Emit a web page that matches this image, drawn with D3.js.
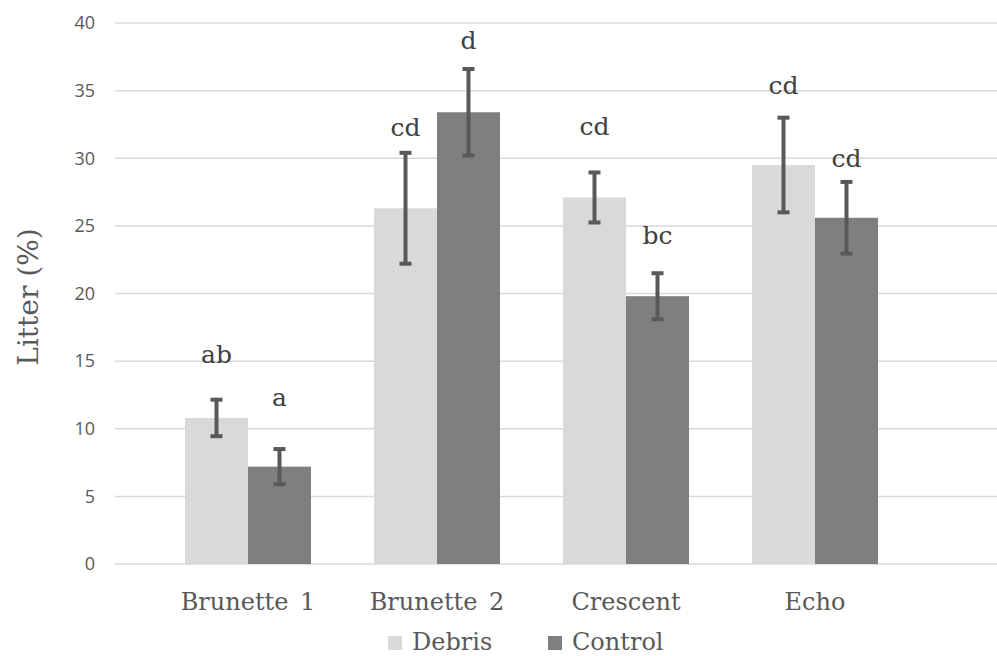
<!DOCTYPE html>
<html><head><meta charset="utf-8">
<script src="https://cdn.jsdelivr.net/npm/d3@7"></script>
<style>body{margin:0;background:#fff}svg{display:block}</style>
</head><body><svg id="c" width="997" height="656"></svg>
<script>
const categories = ["Brunette 1", "Brunette 2", "Crescent", "Echo"];
const seriesNames = ["Debris", "Control"];
const debris = [10.8, 26.3, 27.1, 29.5];
const control = [7.2, 33.4, 19.8, 25.6];
const debrisErr = [1.35, 4.1, 1.85, 3.5];
const controlErr = [1.3, 3.2, 1.7, 2.65];
const debrisLetters = ["ab", "cd", "cd", "cd"];
const controlLetters = ["a", "d", "bc", "cd"];
const debrisLetterPos = [15.5, 32.3, 32.4, 35.4];
const controlLetterPos = [12.3, 38.7, 24.3, 30.0];
const yTicks = [0, 5, 10, 15, 20, 25, 30, 35, 40];

const SERIF = "DejaVu Serif";
const colors = {Debris: "#d9d9d9", Control: "#7f7f7f"};
const svg = d3.select("#c");
const y = d3.scaleLinear().domain([0, 40]).range([564, 23]);
const x0 = d3.scaleBand().domain(categories).range([153.5, 909.5]).paddingInner(1/3).paddingOuter(1/6);
const x1 = d3.scaleBand().domain(seriesNames).range([0, x0.bandwidth()]);

svg.append("g").selectAll("line").data(yTicks).join("line")
  .attr("x1", 115).attr("x2", 997)
  .attr("y1", d => y(d)).attr("y2", d => y(d))
  .attr("stroke", "#d9d9d9").attr("stroke-width", 1.5);

const yAxis = svg.append("g").attr("transform", "translate(95,0)")
  .call(d3.axisLeft(y).tickValues(yTicks).tickSize(0).tickPadding(0));
yAxis.select(".domain").remove();
yAxis.selectAll("text").attr("font-family", "'Open Sans', sans-serif").attr("font-size", 18).attr("fill", "#595959");

svg.append("text").attr("transform", "translate(38,297) rotate(-90)")
  .attr("text-anchor", "middle").attr("font-family", SERIF)
  .attr("font-size", 28).attr("fill", "#595959").text("Litter (%)");

const rows = categories.map((c, i) => ({c, vals: [
  {s: "Debris", v: debris[i], e: debrisErr[i], l: debrisLetters[i], lp: debrisLetterPos[i]},
  {s: "Control", v: control[i], e: controlErr[i], l: controlLetters[i], lp: controlLetterPos[i]}
]}));

const g = svg.append("g").selectAll("g").data(rows).join("g")
  .attr("transform", d => `translate(${x0(d.c)},0)`);
g.selectAll("rect").data(d => d.vals).join("rect")
  .attr("x", d => x1(d.s)).attr("width", x1.bandwidth())
  .attr("y", d => y(d.v)).attr("height", d => y(0) - y(d.v))
  .attr("fill", d => colors[d.s]);

const eb = g.selectAll("g.eb").data(d => d.vals).join("g").attr("class", "eb")
  .attr("stroke", "#595959").attr("stroke-width", 4);
const cx = d => x1(d.s) + x1.bandwidth() / 2;
eb.append("line").attr("x1", cx).attr("x2", cx).attr("y1", d => y(d.v + d.e)).attr("y2", d => y(d.v - d.e));
eb.append("line").attr("x1", d => cx(d) - 6).attr("x2", d => cx(d) + 6).attr("y1", d => y(d.v + d.e)).attr("y2", d => y(d.v + d.e));
eb.append("line").attr("x1", d => cx(d) - 6).attr("x2", d => cx(d) + 6).attr("y1", d => y(d.v - d.e)).attr("y2", d => y(d.v - d.e));

g.selectAll("text.lt").data(d => d.vals).join("text").attr("class", "lt")
  .attr("x", cx).attr("y", d => y(d.lp)).attr("dy", "0.35em")
  .attr("text-anchor", "middle").attr("font-family", SERIF)
  .attr("font-size", 25).attr("fill", "#404040").text(d => d.l);

svg.append("g").selectAll("text").data(categories).join("text")
  .attr("x", d => x0(d) + x0.bandwidth() / 2).attr("y", 610)
  .attr("text-anchor", "middle").attr("font-family", SERIF)
  .attr("font-size", 24).attr("word-spacing", 4).attr("fill", "#595959").text(d => d);

const leg = svg.append("g").selectAll("g").data(seriesNames).join("g")
  .attr("transform", (d, i) => `translate(${388 + i * 160},636)`);
leg.append("rect").attr("width", 14).attr("height", 14).attr("fill", d => colors[d]);
leg.append("text").attr("x", 24).attr("y", 14).attr("font-family", SERIF)
  .attr("font-size", 24).attr("fill", "#595959").text(d => d);
</script></body></html>
